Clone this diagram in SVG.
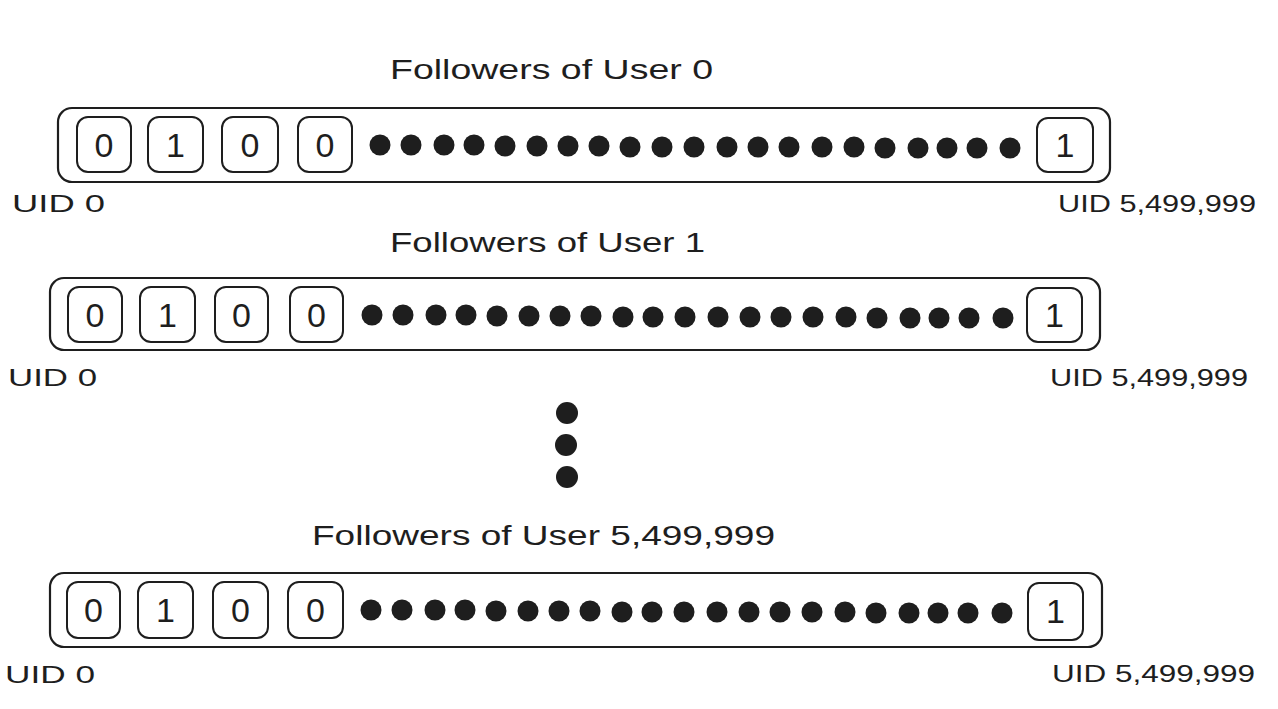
<svg xmlns="http://www.w3.org/2000/svg" width="1278" height="709" viewBox="0 0 1278 709">
<style>
.bg{fill:#ffffff}
.outer{fill:none;stroke:#1e1e1e;stroke-width:2.2}
.cell{fill:none;stroke:#1e1e1e;stroke-width:2}
.dot{fill:#1e1e1e}
.t{font-family:"Liberation Sans","DejaVu Sans",sans-serif;fill:#1e1e1e}
.title{font-size:28px}
.uid{font-size:23px}
.digit{font-size:34px;text-anchor:middle}
</style>
<rect class="bg" x="0" y="0" width="1278" height="709"/>
<g id="connectors"></g>

<g id="row-user0">
  <text class="t title" x="390" y="79" textLength="323" lengthAdjust="spacingAndGlyphs">Followers of User 0</text>
  <rect class="outer" x="58" y="108" width="1052" height="74" rx="14"/>
  <g id="r1-c0"><rect class="cell" x="77" y="117" width="54" height="55" rx="11"/><text class="t digit" x="104" y="157">0</text></g>
  <g id="r1-c1"><rect class="cell" x="148" y="117" width="55" height="55" rx="11"/><text class="t digit" x="175.5" y="157">1</text></g>
  <g id="r1-c2"><rect class="cell" x="222" y="117" width="56" height="55" rx="11"/><text class="t digit" x="250" y="157">0</text></g>
  <g id="r1-c3"><rect class="cell" x="298" y="117" width="54" height="55" rx="11"/><text class="t digit" x="325" y="157">0</text></g>
  <g id="r1-dots">
    <circle class="dot" cx="380" cy="145" r="10.5"/><circle class="dot" cx="411" cy="145" r="10.5"/><circle class="dot" cx="444" cy="145" r="10.5"/><circle class="dot" cx="474" cy="145" r="10.5"/><circle class="dot" cx="505" cy="146" r="10.5"/><circle class="dot" cx="537" cy="146" r="10.5"/><circle class="dot" cx="568" cy="146" r="10.5"/><circle class="dot" cx="599" cy="146" r="10.5"/><circle class="dot" cx="630" cy="147" r="10.5"/><circle class="dot" cx="662" cy="147" r="10.5"/><circle class="dot" cx="694" cy="147" r="10.5"/><circle class="dot" cx="727" cy="147" r="10.5"/><circle class="dot" cx="758" cy="147" r="10.5"/><circle class="dot" cx="789" cy="147" r="10.5"/><circle class="dot" cx="822" cy="147" r="10.5"/><circle class="dot" cx="854" cy="147" r="10.5"/><circle class="dot" cx="885" cy="148" r="10.5"/><circle class="dot" cx="918" cy="148" r="10.5"/><circle class="dot" cx="947" cy="148" r="10.5"/><circle class="dot" cx="977" cy="148" r="10.5"/><circle class="dot" cx="1010" cy="148" r="10.5"/>
  </g>
  <g id="r1-clast"><rect class="cell" x="1037" y="118" width="56" height="54" rx="11"/><text class="t digit" x="1065" y="157">1</text></g>
  <text class="t uid" x="12" y="212" textLength="93" lengthAdjust="spacingAndGlyphs">UID 0</text>
  <text class="t uid" x="1058" y="212" textLength="198" lengthAdjust="spacingAndGlyphs">UID 5,499,999</text>
</g>

<g id="row-user1">
  <text class="t title" x="390" y="252" textLength="315" lengthAdjust="spacingAndGlyphs">Followers of User 1</text>
  <rect class="outer" x="50" y="278" width="1050" height="72" rx="14"/>
  <g id="r2-c0"><rect class="cell" x="68" y="287" width="54" height="55" rx="11"/><text class="t digit" x="95" y="327">0</text></g>
  <g id="r2-c1"><rect class="cell" x="140" y="287" width="55" height="55" rx="11"/><text class="t digit" x="167.5" y="327">1</text></g>
  <g id="r2-c2"><rect class="cell" x="215" y="287" width="53" height="55" rx="11"/><text class="t digit" x="241.5" y="327">0</text></g>
  <g id="r2-c3"><rect class="cell" x="290" y="287" width="53" height="55" rx="11"/><text class="t digit" x="316.5" y="327">0</text></g>
  <g id="r2-dots">
    <circle class="dot" cx="372" cy="315" r="10.5"/><circle class="dot" cx="403" cy="315" r="10.5"/><circle class="dot" cx="436" cy="315" r="10.5"/><circle class="dot" cx="466" cy="315" r="10.5"/><circle class="dot" cx="497" cy="316" r="10.5"/><circle class="dot" cx="529" cy="316" r="10.5"/><circle class="dot" cx="560" cy="316" r="10.5"/><circle class="dot" cx="591" cy="316" r="10.5"/><circle class="dot" cx="623" cy="317" r="10.5"/><circle class="dot" cx="653" cy="317" r="10.5"/><circle class="dot" cx="685" cy="317" r="10.5"/><circle class="dot" cx="718" cy="317" r="10.5"/><circle class="dot" cx="750" cy="317" r="10.5"/><circle class="dot" cx="781" cy="317" r="10.5"/><circle class="dot" cx="813" cy="317" r="10.5"/><circle class="dot" cx="846" cy="317" r="10.5"/><circle class="dot" cx="877" cy="318" r="10.5"/><circle class="dot" cx="910" cy="318" r="10.5"/><circle class="dot" cx="939" cy="318" r="10.5"/><circle class="dot" cx="969" cy="318" r="10.5"/><circle class="dot" cx="1003" cy="318" r="10.5"/>
  </g>
  <g id="r2-clast"><rect class="cell" x="1027" y="288" width="55" height="54" rx="11"/><text class="t digit" x="1054.5" y="327">1</text></g>
  <text class="t uid" x="8" y="386" textLength="89" lengthAdjust="spacingAndGlyphs">UID 0</text>
  <text class="t uid" x="1050" y="386" textLength="198" lengthAdjust="spacingAndGlyphs">UID 5,499,999</text>
</g>

<g id="ellipsis">
  <circle class="dot" cx="567" cy="413" r="11"/>
  <circle class="dot" cx="566" cy="445" r="11"/>
  <circle class="dot" cx="567" cy="477" r="11"/>
</g>

<g id="row-user5499999">
  <text class="t title" x="312" y="545" textLength="463" lengthAdjust="spacingAndGlyphs">Followers of User 5,499,999</text>
  <rect class="outer" x="50" y="573" width="1052" height="74" rx="14"/>
  <g id="r3-c0"><rect class="cell" x="67" y="582" width="53" height="56" rx="11"/><text class="t digit" x="93.5" y="622">0</text></g>
  <g id="r3-c1"><rect class="cell" x="138" y="582" width="55" height="56" rx="11"/><text class="t digit" x="165.5" y="622">1</text></g>
  <g id="r3-c2"><rect class="cell" x="213" y="582" width="55" height="56" rx="11"/><text class="t digit" x="240.5" y="622">0</text></g>
  <g id="r3-c3"><rect class="cell" x="288" y="582" width="55" height="56" rx="11"/><text class="t digit" x="315.5" y="622">0</text></g>
  <g id="r3-dots">
    <circle class="dot" cx="371" cy="610" r="10.5"/><circle class="dot" cx="402" cy="610" r="10.5"/><circle class="dot" cx="435" cy="610" r="10.5"/><circle class="dot" cx="465" cy="610" r="10.5"/><circle class="dot" cx="496" cy="611" r="10.5"/><circle class="dot" cx="528" cy="611" r="10.5"/><circle class="dot" cx="559" cy="611" r="10.5"/><circle class="dot" cx="590" cy="611" r="10.5"/><circle class="dot" cx="622" cy="612" r="10.5"/><circle class="dot" cx="652" cy="612" r="10.5"/><circle class="dot" cx="684" cy="612" r="10.5"/><circle class="dot" cx="717" cy="612" r="10.5"/><circle class="dot" cx="749" cy="612" r="10.5"/><circle class="dot" cx="780" cy="612" r="10.5"/><circle class="dot" cx="812" cy="612" r="10.5"/><circle class="dot" cx="845" cy="612" r="10.5"/><circle class="dot" cx="876" cy="613" r="10.5"/><circle class="dot" cx="909" cy="613" r="10.5"/><circle class="dot" cx="938" cy="613" r="10.5"/><circle class="dot" cx="968" cy="613" r="10.5"/><circle class="dot" cx="1002" cy="613" r="10.5"/>
  </g>
  <g id="r3-clast"><rect class="cell" x="1028" y="583" width="55" height="57" rx="11"/><text class="t digit" x="1055.5" y="623">1</text></g>
  <text class="t uid" x="5" y="683" textLength="90" lengthAdjust="spacingAndGlyphs">UID 0</text>
  <text class="t uid" x="1052" y="682" textLength="203" lengthAdjust="spacingAndGlyphs">UID 5,499,999</text>
</g>
</svg>
